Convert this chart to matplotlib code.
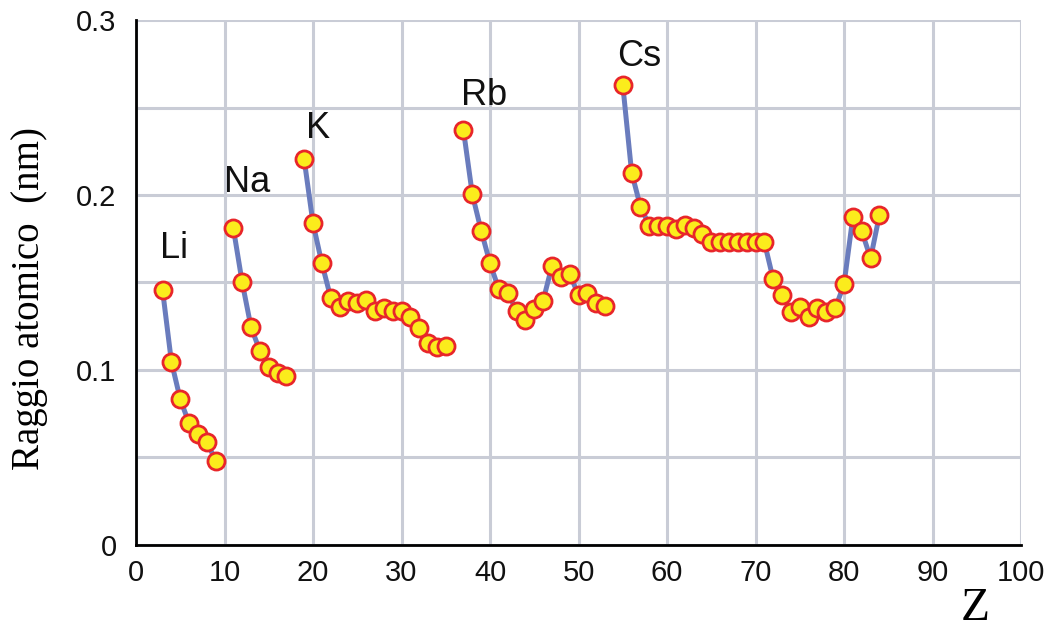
import numpy as np
import matplotlib.pyplot as plt
from matplotlib.ticker import MultipleLocator

# raggio atomico (nm) per gruppi, dal metallo alcalino al gas nobile escluso
z_li = [3, 4, 5, 6, 7, 8, 9]
r_li = [0.1457, 0.1047, 0.0833, 0.0695, 0.0634, 0.0589, 0.0482]

z_na = [11, 12, 13, 14, 15, 16, 17]
r_na = [0.181, 0.150, 0.1244, 0.1109, 0.1015, 0.0981, 0.0968]

z_k = list(range(19, 36))
r_k = [0.2204, 0.1838, 0.161, 0.1413, 0.1362, 0.1394, 0.1381, 0.140, 0.1337,
       0.1352, 0.1337, 0.1337, 0.1305, 0.1242, 0.1152, 0.1133, 0.1137]

z_rb = list(range(37, 54))
r_rb = [0.2371, 0.2004, 0.1796, 0.161, 0.1461, 0.1442, 0.1337, 0.1286, 0.135,
        0.1396, 0.1596, 0.1533, 0.1549, 0.1427, 0.1442, 0.1381, 0.1366]

z_cs = list(range(55, 85))
r_cs = [0.2629, 0.2128, 0.1933, 0.1825, 0.1825, 0.1825, 0.1806, 0.1829, 0.181,
        0.1777, 0.173, 0.173, 0.173, 0.173, 0.173, 0.173, 0.173, 0.1518, 0.1429,
        0.1333, 0.1358, 0.1305, 0.1352, 0.1333, 0.1352, 0.149, 0.1876, 0.1794,
        0.1638, 0.1886]

labels = ['Li', 'Na', 'K', 'Rb', 'Cs']
label_x = [4.3, 12.6, 20.6, 39.3, 56.8]
label_y = [0.1695, 0.207, 0.238, 0.257, 0.279]

plt.rcParams['font.family'] = ['Liberation Sans', 'DejaVu Sans']

fig = plt.figure(figsize=(10.51, 6.31), dpi=100)
ax = fig.add_axes([0.1294, 0.1363, 0.8421, 0.832])

for z, r in [(z_li, r_li), (z_na, r_na), (z_k, r_k), (z_rb, r_rb), (z_cs, r_cs)]:
    ax.plot(z, r, c='#6a7cbd', lw=3.6, zorder=3, solid_capstyle='round')
    ax.plot(z, r, ls='none', marker='o', ms=12.3, mfc='#fbec1c', mec='#e8262a',
            mew=2.0, zorder=4, clip_on=False)

for t, x, y in zip(labels, label_x, label_y):
    ax.text(x, y, t, fontsize=26, ha='center', va='center', color='#111111')

ax.set_xlim(0, 100)
ax.set_ylim(0, 0.3)
ax.xaxis.set_major_locator(MultipleLocator(10))
ax.yaxis.set_minor_locator(MultipleLocator(0.05))
ax.set_yticks([0, 0.1, 0.2, 0.3])
ax.set_yticklabels(['0', '0.1', '0.2', '0.3'])

ax.grid(True, which='both', color='#c9ccd6', lw=2.2, zorder=0)
ax.set_axisbelow(True)
ax.spines['top'].set_visible(False)
ax.spines['right'].set_visible(False)
ax.spines['left'].set_linewidth(2)
ax.spines['bottom'].set_linewidth(2)
ax.tick_params(which='both', length=0)
ax.tick_params(axis='x', labelsize=21, pad=10, labelcolor='#111111')
ax.tick_params(axis='y', labelsize=21, pad=14, labelcolor='#111111')

ax.set_ylabel('Raggio atomico  (nm)', family=['Liberation Serif', 'DejaVu Serif'],
              fontsize=28)
ax.yaxis.set_label_coords(-0.099, 0.469)
fig.text(0.9277, 0.036, 'Z', family=['Liberation Serif', 'DejaVu Serif'],
         fontsize=34, ha='center', va='center')

fig.savefig('out.png', dpi=100)
